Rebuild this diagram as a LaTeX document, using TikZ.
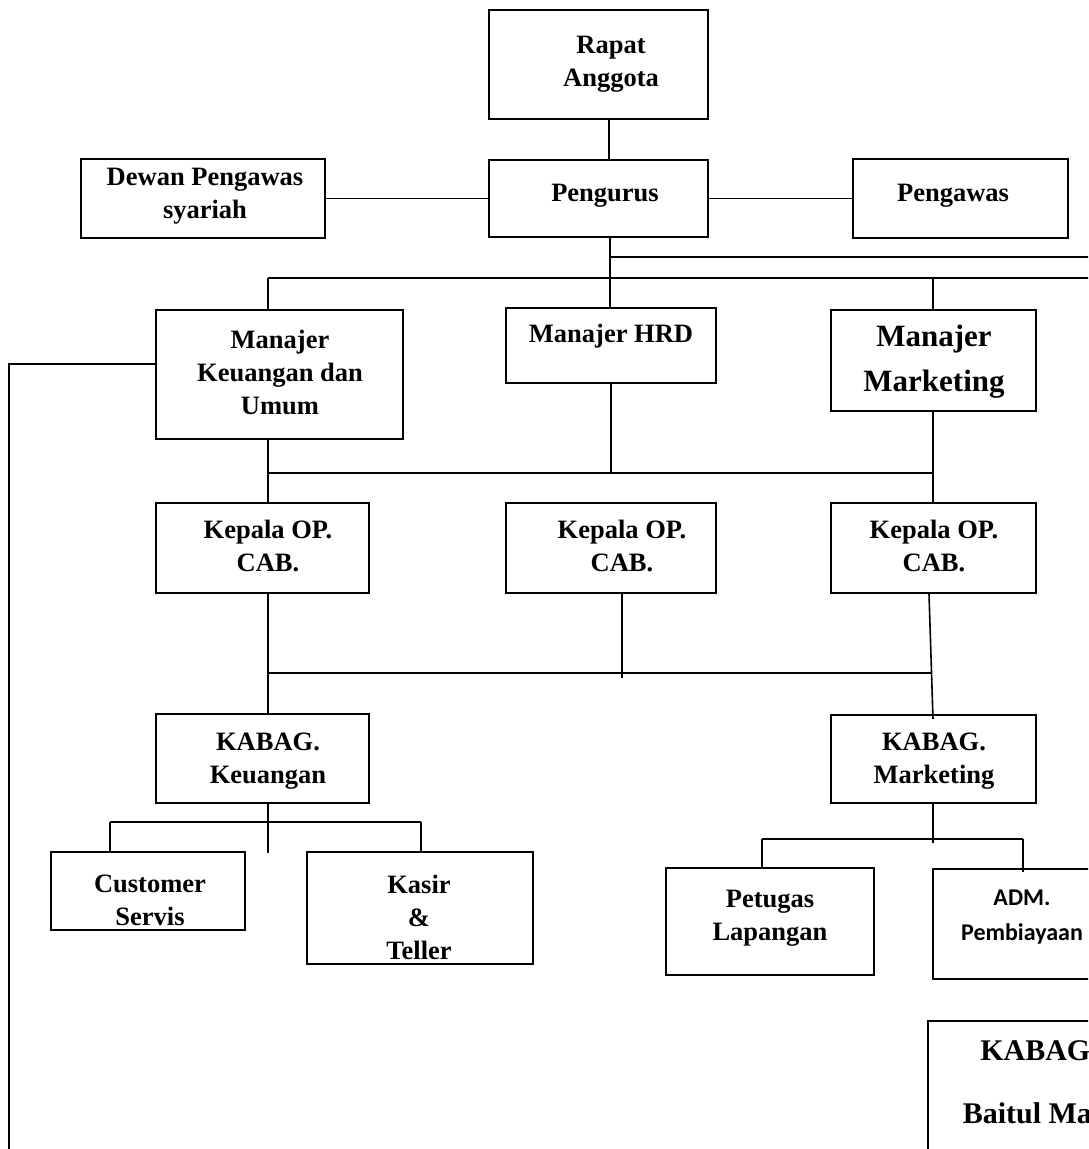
\documentclass[tikz,border=0pt]{standalone}
\usepackage{fontspec}
\setmainfont{Liberation Serif}
\newfontfamily\calib{Carlito}
\tikzset{
  box/.style={draw, rectangle, inner sep=0pt, line width=1.6pt},
  txt/.style={font=\fontsize{26.5}{33}\selectfont\bfseries, align=center, inner sep=0pt},
  bigtxt/.style={font=\fontsize{31}{45}\selectfont\bfseries, align=center, inner sep=0pt},
  hugetxt/.style={font=\fontsize{30}{63}\selectfont\bfseries, align=center, inner sep=0pt},
  sanstxt/.style={font=\fontsize{24}{35}\selectfont\calib\bfseries, align=center, inner sep=0pt},
  conn/.style={line width=1.6pt}
}
\begin{document}
\begin{tikzpicture}[x=1pt,y=-1pt]
\useasboundingbox (0,0) rectangle (1088,1149);
\clip (0,0) rectangle (1088,1149);
\fill[white] (0,0) rectangle (1088,1149);
% boxes: center (x,y), width, height
\node[box, minimum width=219, minimum height=109] (rapat) at (598.5,64.5) {};
\node[box, minimum width=219, minimum height=77] (pengurus) at (598.5,198.5) {};
\node[box, minimum width=244, minimum height=79] (dewan) at (203,198.5) {};
\node[box, minimum width=215, minimum height=79] (pengawas) at (960.5,198.5) {};
\node[box, minimum width=247, minimum height=129] (mku) at (279.5,374.5) {};
\node[box, minimum width=210, minimum height=75] (hrd) at (611,345.5) {};
\node[box, minimum width=205, minimum height=101] (mmk) at (933.5,360.5) {};
\node[box, minimum width=213, minimum height=90] (kop1) at (262.5,548) {};
\node[box, minimum width=210, minimum height=90] (kop2) at (611,548) {};
\node[box, minimum width=205, minimum height=90] (kop3) at (933.5,548) {};
\node[box, minimum width=213, minimum height=89] (kbk) at (262.5,758.5) {};
\node[box, minimum width=205, minimum height=88] (kbm) at (933.5,759) {};
\node[box, minimum width=194, minimum height=78] (cs) at (148,891) {};
\node[box, minimum width=226, minimum height=112] (kasir) at (420,908) {};
\node[box, minimum width=208, minimum height=107] (petugas) at (770,921.5) {};
\node[box, minimum width=178, minimum height=110] (adm) at (1022,924) {};
\node[box, minimum width=222, minimum height=200] (baitul) at (1039,1121) {};
% texts
\node[txt] (t-rapat) at (611,64) {Rapat\\Anggota};
\node[txt] (t-pengurus) at (605,196) {Pengurus};
\node[txt] (t-dewan) at (205,196) {Dewan Pengawas\\syariah};
\node[txt] (t-pengawas) at (953,196) {Pengawas};
\node[txt] (t-mku) at (280,372) {Manajer\\Keuangan dan\\Umum};
\node[txt] (t-hrd) at (611,336) {Manajer HRD};
\node[bigtxt] (t-mmk) at (934,362) {Manajer\\Marketing};
\node[txt] (t-kop1) at (268,546) {Kepala OP.\\CAB.};
\node[txt] (t-kop2) at (622,546) {Kepala OP.\\CAB.};
\node[txt] (t-kop3) at (934,546) {Kepala OP.\\CAB.};
\node[txt] (t-kbk) at (268,761) {KABAG.\\Keuangan};
\node[txt] (t-kbm) at (934,761) {KABAG.\\Marketing};
\node[txt] (t-cs) at (150,900) {Customer\\Servis};
\node[txt] (t-kasir) at (419,917) {Kasir\\\&\\Teller};
\node[txt] (t-petugas) at (770,918) {Petugas\\Lapangan};
\node[sanstxt] (t-adm) at (1022,917) {ADM.\\Pembiayaan};
\node[hugetxt] (t-baitul) at (1039,1082) {KABAG.\\Baitul Maal};
% connector coordinates
\coordinate (r1) at (1095,257);
\coordinate (r2) at (1095,278);
\coordinate (j257) at (610,257);
\coordinate (j278) at (268,278);
\coordinate (jm278) at (933,278);
\coordinate (lft1) at (9,364);
\coordinate (lft2) at (9,1160);
\coordinate (a473) at (268,473);
\coordinate (b473) at (933,473);
\coordinate (a673) at (268,673);
\coordinate (b673) at (931,673);
\coordinate (c673) at (622,678);
\coordinate (k822) at (268,822);
\coordinate (l822) at (110,822);
\coordinate (rr822) at (421,822);
\coordinate (k853) at (268,853);
\coordinate (m839) at (933,839);
\coordinate (m843) at (933,843);
\coordinate (l839) at (762,839);
\coordinate (rr839) at (1023,839);
\coordinate (hrdtop) at (610,308);
\coordinate (kop3end) at (933,719);
% connectors
\draw[conn] (rapat.south -| 609,0) -- (pengurus.north -| 609,0);
\draw[conn] (dewan.east) -- (pengurus.west);
\draw[conn] (pengurus.east) -- (pengawas.west);
\draw[conn] (pengurus.south -| 610,0) -- (hrdtop);
\draw[conn] (j257) -- (r1);
\draw[conn] (j278) -- (r2);
\draw[conn] (j278) -- (mku.north -| j278);
\draw[conn] (jm278) -- (mmk.north -| jm278);
\draw[conn] (mku.west |- lft1) -- (lft1) -- (lft2);
\draw[conn] (mku.south -| a473) -- (kop1.north -| a473);
\draw[conn] (a473) -- (b473);
\draw[conn] (hrd.south) -- (hrd.south |- a473);
\draw[conn] (mmk.south -| b473) -- (kop3.north -| b473);
\draw[conn] (kop1.south -| a673) -- (kbk.north -| a673);
\draw[conn] (a673) -- (b673);
\draw[conn] (kop2.south -| c673) -- (c673);
\draw[conn] (kop3.south -| 929,0) -- (kop3end);
\draw[conn] (kbk.south -| k822) -- (k853);
\draw[conn] (l822) -- (rr822);
\draw[conn] (l822) -- (cs.north -| l822);
\draw[conn] (rr822) -- (kasir.north -| rr822);
\draw[conn] (kbm.south -| m839) -- (m843);
\draw[conn] (l839) -- (rr839);
\draw[conn] (l839) -- (petugas.north -| l839);
\draw[conn] (rr839) -- ([yshift=-4pt]adm.north -| rr839);
\end{tikzpicture}
\end{document}
